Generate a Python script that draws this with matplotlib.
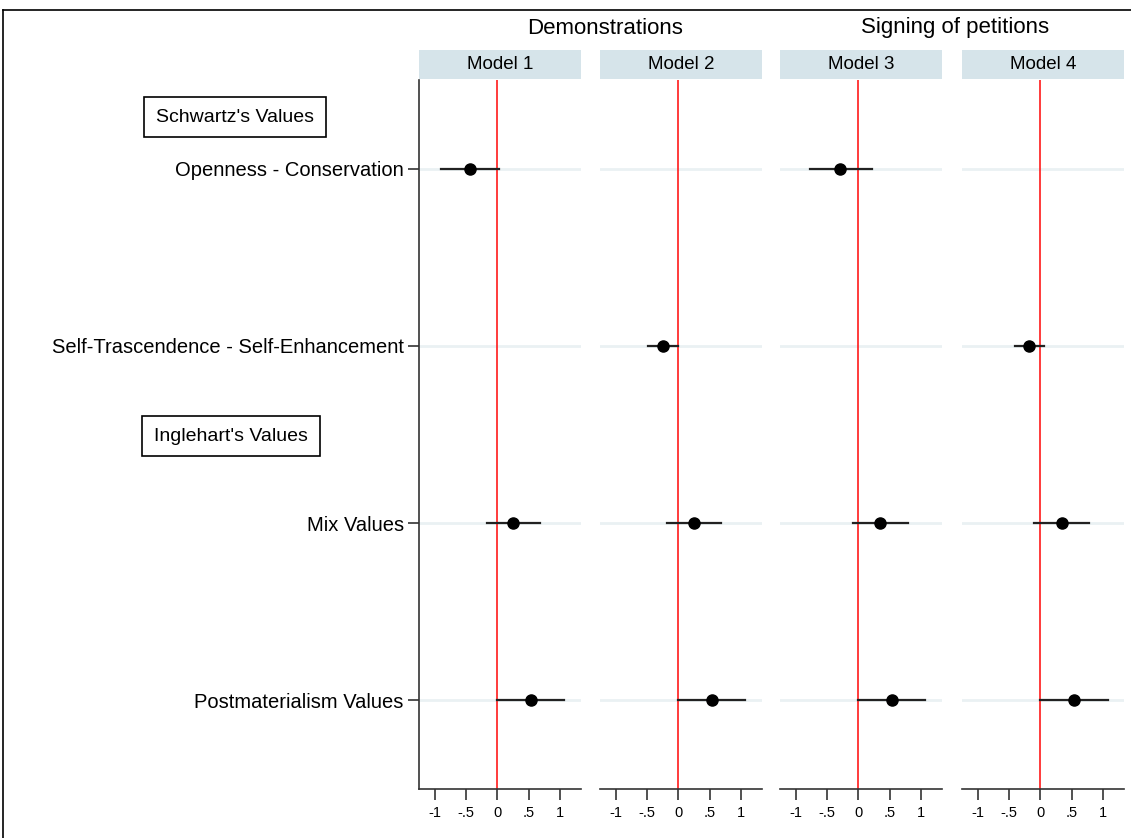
import matplotlib.pyplot as plt
import matplotlib.transforms as mtransforms
from matplotlib.lines import Line2D
from matplotlib.patches import Rectangle

plt.rcParams['font.family'] = ['Liberation Sans', 'DejaVu Sans']

# Coefficient estimates with 95% CIs (None = variable not in model)
variables = ['Openness - Conservation', 'Self-Trascendence - Self-Enhancement',
             'Mix Values', 'Postmaterialism Values']
models = ['Model 1', 'Model 2', 'Model 3', 'Model 4']
coef = [[-0.44, None, 0.25, 0.54],
        [None, -0.25, 0.25, 0.54],
        [-0.29, None, 0.35, 0.54],
        [None, -0.19, 0.35, 0.54]]
ci_low = [[-0.90, None, -0.17, 0.00],
          [None, -0.48, -0.18, 0.00],
          [-0.77, None, -0.09, 0.00],
          [None, -0.41, -0.10, 0.00]]
ci_high = [[0.03, None, 0.68, 1.06],
           [None, 0.00, 0.67, 1.06],
           [0.21, None, 0.79, 1.06],
           [None, 0.05, 0.78, 1.07]]
groups = ["Schwartz's Values", "Inglehart's Values"]
group_pos = [0.71, 2.51]
xticks = [-1, -0.5, 0, 0.5, 1]
xticklabels = ['-1', '-.5', '0', '.5', '1']

W, H = 1131, 838
fig = plt.figure(figsize=(W / 100, H / 100), dpi=100)

lefts = [419, 600, 780, 962]
top, bottom = 80, 789
axes = []
for i, lx in enumerate(lefts):
    ax = fig.add_axes([lx / W, 1 - bottom / H, 162 / W, (bottom - top) / H])
    axes.append(ax)
    ypos = range(1, len(variables) + 1)
    for y in ypos:
        ax.axhline(y, color='#eaf1f3', lw=2, zorder=0)
    ax.axvline(0, color='#ff1a1a', lw=1.2, zorder=1)
    for j, y in enumerate(ypos):
        if coef[i][j] is None:
            continue
        ax.plot([ci_low[i][j], ci_high[i][j]], [y, y], color='#222222', lw=1.6, zorder=2)
        ax.plot(coef[i][j], y, 'o', color='black', ms=8, zorder=3)
    ax.set_xlim(-1.25, 1.33)
    ax.set_ylim(4.5, 0.5)
    ax.set_xticks(xticks)
    ax.set_xticklabels(xticklabels, fontsize=10.5)
    ax.tick_params(axis='x', length=8, width=1.2, color='#333333', pad=4)
    for s in ['top', 'right']:
        ax.spines[s].set_visible(False)
    ax.spines['bottom'].set_color('#333333')
    ax.spines['bottom'].set_linewidth(1.2)
    if i == 0:
        ax.set_yticks(list(ypos))
        ax.set_yticklabels(variables, fontsize=14.5)
        ax.tick_params(axis='y', length=8, width=1.2, color='#333333', pad=3)
        ax.spines['left'].set_color('#333333')
        ax.spines['left'].set_linewidth(1.2)
    else:
        ax.set_yticks([])
        ax.spines['left'].set_visible(False)
    # model strip on top of each panel
    ax.add_patch(Rectangle((0, 1.002), 1, 0.04, transform=ax.transAxes,
                           facecolor='#d6e4ea', edgecolor='none', clip_on=False))
    ax.text(0.5, 1.022, models[i], transform=ax.transAxes, ha='center',
            va='center', fontsize=13.5)

# group headers inside the label area
trans = mtransforms.blended_transform_factory(fig.transFigure, axes[0].transData)
for name, y, xc in zip(groups, group_pos, [235, 231]):
    fig.text(xc / W, y, name, transform=trans, ha='center', va='center', fontsize=14,
             bbox=dict(boxstyle='square,pad=0.6', facecolor='white', edgecolor='black', lw=1.2))

fig.text(605 / W, 1 - 28 / H, 'Demonstrations', ha='center', va='center', fontsize=16)
fig.text(955 / W, 1 - 28 / H, 'Signing of petitions', ha='center', va='center', fontsize=16)

# outer frame
fig.add_artist(Line2D([3 / W, 1], [1 - 10 / H, 1 - 10 / H], transform=fig.transFigure, color='black', lw=1.2))
fig.add_artist(Line2D([3 / W, 3 / W], [0, 1 - 10 / H], transform=fig.transFigure, color='black', lw=1.2))

fig.savefig('out.png', dpi=100)
